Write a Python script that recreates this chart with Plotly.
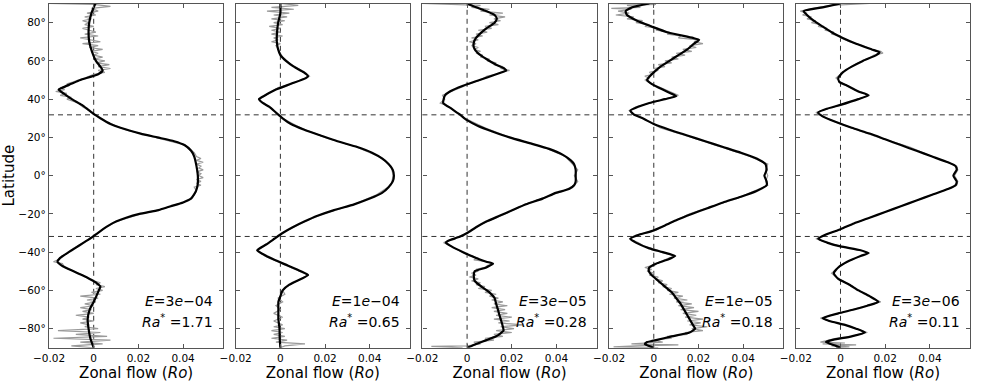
import plotly.graph_objects as go

# ---- data (latitude in degrees, zonal flow in Ro) ----
tick_lat = [-80, -60, -40, -20, 0, 20, 40, 60, 80]
tick_lat_text = ["−80°", "−60°", "−40°", "−20°", "0°", "20°", "40°", "60°", "80°"]
tick_flow = [-0.02, 0, 0.02, 0.04]
tick_flow_text = ["−0.02", "0", "0.02", "0.04"]
tangent_lat = 31.79

ekman = ["3<i>e</i>−04", "1<i>e</i>−04", "3<i>e</i>−05", "1<i>e</i>−05", "3<i>e</i>−06"]
rayleigh = ["1.71", "0.65", "0.28", "0.18", "0.11"]

# panel 1 (E=3e-04)
lat_mean_1 = [90, 88, 85, 80, 75, 70, 65, 60, 57, 55, 53, 50, 48, 46, 45, 43, 40, 37, 35, 32, 30, 27, 25, 22, 20,
              18, 16, 13, 10, 5, 0, -5, -8, -10, -12, -14, -16, -18, -20, -22, -24, -26, -28, -30, -32, -35, -38,
              -40, -43, -45, -47, -50, -52, -54, -56, -58, -60, -63, -66, -70, -75, -80, -85, -90]
flow_mean_1 = [0.0008, 0.0, -0.001, -0.002, -0.0023, -0.002, -0.0008, 0.001, 0.003, 0.004, 0.002, -0.006, -0.010,
               -0.014, -0.0157, -0.0135, -0.0098, -0.0053, -0.003, 0.0003, 0.003, 0.0075, 0.012, 0.021, 0.0285,
               0.036, 0.0406, 0.0436, 0.045, 0.046, 0.0466, 0.0465, 0.0458, 0.0448, 0.0435, 0.040, 0.0345, 0.029,
               0.0205, 0.0145, 0.010, 0.0068, 0.0042, 0.0018, -0.0005, -0.0045, -0.0085, -0.0112, -0.015, -0.0162,
               -0.0143, -0.009, -0.0053, -0.0018, 0.0012, 0.003, 0.0023, 0.0012, 0.0, -0.0018, -0.0027, -0.0023,
               -0.0015, 0.0]
lat_raw_1 = [90, 89.5, 88.5, 87.5, 86, 85, 84, 83, 82, 81, 80, 79, 78, 77, 76, 75, 74, 73, 72, 71, 70, 69, 68, 67,
             66, 65, 64, 63, 62, 61, 60, 59, 58, 57, 56, 55, 54, 53, 52, 51, 50, 49, 48, 47, 46, 45, 44, 43, 42, 41,
             40, 38, 36, 34, 32, 30, 28, 26, 24, 22, 20, 18, 16, 14, 12, 10, 9, 8, 7, 6, 5, 4, 3, 2, 1, 0, -1, -2,
             -3, -4, -5, -6, -8, -10, -12, -14, -16, -18, -20, -22, -24, -26, -28, -30, -32, -34, -36, -38, -40, -42,
             -44, -45, -46, -48, -50, -52, -54, -55, -56, -57, -58, -59, -60, -61, -62, -63, -64, -65, -66, -67,
             -68, -69, -70, -71, -72, -73, -74, -75, -76, -77, -78, -79, -80, -81, -82, -83, -84, -85, -86, -87,
             -88, -89, -90]
flow_raw_1 = [-0.020, 0.000, 0.0075, -0.001, 0.002, -0.003, 0.001, -0.004, -0.001, -0.005, -0.002, -0.004, 0.000,
              -0.005, -0.002, 0.001, -0.004, 0.002, -0.006, -0.001, 0.003, -0.005, 0.002, -0.002, 0.004, -0.001,
              0.002, 0.000, 0.004, 0.000, 0.005, 0.001, 0.007, 0.002, 0.0075, 0.002, 0.005, 0.000, -0.002, -0.004,
              -0.007, -0.009, -0.012, -0.011, -0.015, -0.013, -0.017, -0.012, -0.015, -0.010, -0.012, -0.007,
              -0.005, -0.002, 0.000, 0.003, 0.006, 0.010, 0.014, 0.021, 0.028, 0.035, 0.041, 0.043, 0.045, 0.046,
              0.048, 0.046, 0.049, 0.046, 0.048, 0.047, 0.049, 0.046, 0.048, 0.047, 0.049, 0.046, 0.048, 0.046,
              0.048, 0.045, 0.046, 0.045, 0.044, 0.040, 0.034, 0.029, 0.021, 0.015, 0.010, 0.007, 0.004, 0.002,
              0.000, -0.003, -0.006, -0.009, -0.011, -0.014, -0.016, -0.018, -0.014, -0.013, -0.009, -0.005, -0.002,
              0.000, 0.003, 0.001, 0.005, 0.001, 0.004, -0.001, 0.003, -0.006, 0.002, -0.003, 0.001, -0.004, 0.000,
              -0.006, -0.001, -0.005, 0.000, -0.008, -0.002, -0.005, 0.000, -0.006, -0.002, -0.004, 0.002, -0.016,
              0.003, -0.008, 0.006, -0.018, 0.0075, -0.006, 0.004, -0.010, 0.000]

# panel 2 (E=1e-04)
lat_mean_2 = [90, 85, 80, 75, 70, 66, 63, 60, 57, 54, 52, 51, 48, 45, 42, 40, 38, 36, 33, 30, 27, 24, 21, 18, 15,
              12, 9, 6, 3, 0, -3, -6, -9, -12, -15, -18, -21, -24, -27, -30, -33, -36, -39, -41, -44, -47, -50, -52,
              -54, -57, -60, -63, -66, -70, -75, -80, -85, -90]
flow_mean_2 = [0.0, 0.0, -0.001, -0.0015, -0.0016, -0.001, 0.0, 0.0025, 0.006, 0.0105, 0.0124, 0.0114, 0.0047,
               -0.002, -0.0068, -0.0096, -0.0079, -0.0049, -0.002, 0.001, 0.0047, 0.0107, 0.018, 0.0255, 0.0344,
               0.041, 0.0455, 0.0485, 0.0503, 0.0508, 0.0503, 0.0484, 0.0455, 0.040, 0.033, 0.024, 0.0166, 0.0107,
               0.0055, 0.001, -0.0027, -0.0064, -0.0104, -0.0079, -0.0027, 0.0033, 0.0092, 0.0124, 0.0092, 0.004,
               0.001, 0.0, -0.0009, -0.0009, -0.0009, -0.0004, -0.0003, 0.0]
lat_raw_2 = [90, 89, 88, 87, 86, 85, 84, 83, 82, 81, 80, 79, 78, 77, 76, 75, 74, 73, 72, 71, 70, 69, 68, 66, 64,
             62, 60, 58, 56, 54, 52, 50, 48, 46, 44, 42, 40, 38, 36, 34, 30, 25, 20, 15, 10, 5, 0, -5, -10, -15,
             -20, -25, -30, -35, -39, -42, -45, -48, -50, -52, -54, -56, -58, -60, -62, -64, -66, -68, -70, -72,
             -74, -76, -78, -79, -80, -81, -82, -83, -84, -85, -86, -87, -88, -89, -90]
flow_raw_2 = [0.000, 0.008, -0.004, 0.006, -0.006, 0.004, -0.003, 0.003, -0.004, 0.002, -0.003, 0.001, -0.005,
              0.000, -0.004, 0.000, -0.004, 0.001, -0.003, -0.001, -0.004, 0.000, -0.002, -0.001, 0.000, 0.001,
              0.003, 0.005, 0.008, 0.011, 0.013, 0.009, 0.005, -0.001, -0.004, -0.007, -0.0095, -0.008, -0.005,
              -0.003, 0.001, 0.009, 0.020, 0.034, 0.044, 0.0495, 0.0505, 0.0495, 0.043, 0.033, 0.019, 0.009, 0.001,
              -0.005, -0.010, -0.007, -0.001, 0.005, 0.009, 0.0125, 0.009, 0.006, 0.003, 0.001, 0.002, -0.001,
              0.001, -0.002, 0.000, -0.003, 0.001, -0.003, 0.001, -0.003, 0.002, -0.004, 0.001, -0.003, 0.002,
              -0.004, 0.003, -0.002, 0.011, 0.002, 0.000]

# panel 3 (E=3e-05)
lat_mean_3 = [90, 88, 86, 84, 82, 80, 77, 74, 72, 70, 67, 64, 61, 58, 56, 55, 53, 50, 47, 44, 42, 40, 38, 35, 32,
              29, 26, 23, 20, 17, 14, 11, 8, 6, 3, 0, -3, -5, -7, -9, -12, -15, -18, -21, -24, -27, -30, -32, -34,
              -35, -37, -40, -43, -45, -46, -48, -50, -52, -55, -58, -61, -64, -67, -70, -73, -76, -79, -81, -84,
              -86, -88, -90]
flow_mean_3 = [0.0, 0.004, 0.0086, 0.0123, 0.0133, 0.0123, 0.0086, 0.0056, 0.004, 0.0031, 0.003, 0.0049, 0.0086,
               0.013, 0.0167, 0.0175, 0.013, 0.0056, -0.0018, -0.0077, -0.0099, -0.0105, -0.0107, -0.007, -0.0033,
               0.0, 0.0049, 0.0116, 0.019, 0.0279, 0.0367, 0.0427, 0.0464, 0.0479, 0.0486, 0.0486, 0.0486, 0.0479,
               0.0456, 0.0397, 0.0338, 0.0264, 0.0204, 0.0145, 0.0086, 0.004, 0.0, -0.0033, -0.0084, -0.0095,
               -0.007, -0.0018, 0.004, 0.0086, 0.0116, 0.0086, 0.0034, 0.003, 0.0034, 0.0064, 0.010, 0.0123, 0.013,
               0.0138, 0.0145, 0.0153, 0.016, 0.0163, 0.013, 0.0086, 0.004, 0.0]
lat_raw_3 = [90, 89.5, 89, 88, 87, 86, 85, 84, 83, 82, 81, 80, 79, 78, 77, 76, 75, 74, 73, 72, 71, 70, 69, 68, 67,
             66, 65, 64, 63, 62, 61, 60, 59, 58, 57, 56, 55, 54, 53, 52, 50, 48, 46, 44, 42, 40, 38, 36, 34, 32,
             30, 25, 20, 15, 10, 5, 3, 0, -3, -5, -8, -10, -15, -20, -25, -30, -33, -35, -37, -40, -42, -43, -44,
             -45, -46, -47, -48, -49, -50, -51, -52, -53, -54, -55, -56, -57, -58, -59, -60, -61, -62, -63, -64,
             -65, -66, -67, -68, -69, -70, -71, -72, -73, -74, -75, -76, -77, -78, -79, -80, -81, -82, -83, -84,
             -85, -86, -87, -88, -89, -89.3, -90]
flow_raw_3 = [-0.020, 0.000, 0.006, 0.002, 0.010, 0.006, 0.016, 0.010, 0.017, 0.012, 0.015, 0.010, 0.014, 0.008,
              0.011, 0.005, 0.009, 0.004, 0.007, 0.002, 0.005, 0.001, 0.004, 0.002, 0.005, 0.003, 0.006, 0.004,
              0.007, 0.006, 0.010, 0.009, 0.013, 0.012, 0.016, 0.015, 0.019, 0.015, 0.013, 0.009, 0.006, 0.001,
              -0.003, -0.007, -0.011, -0.010, -0.012, -0.008, -0.006, -0.003, -0.001, 0.008, 0.019, 0.034, 0.044,
              0.048, 0.0495, 0.048, 0.0495, 0.048, 0.043, 0.038, 0.026, 0.017, 0.007, 0.000, -0.006, -0.0105,
              -0.007, -0.002, 0.001, 0.005, 0.003, 0.009, 0.012, 0.009, 0.008, 0.004, 0.005, 0.002, 0.004, 0.001,
              0.005, 0.002, 0.006, 0.004, 0.008, 0.005, 0.011, 0.008, 0.013, 0.010, 0.014, 0.011, 0.016, 0.012,
              0.018, 0.011, 0.017, 0.012, 0.018, 0.013, 0.020, 0.012, 0.019, 0.014, 0.025, 0.015, 0.021, 0.013,
              0.020, 0.012, 0.016, 0.008, 0.012, 0.003, 0.006, 0.000, -0.016, -0.002]

# panel 4 (E=1e-05)
lat_mean_4 = [90, 88, 86, 84, 81, 78, 75, 72, 71, 69, 66, 63, 60, 57, 54, 51, 50, 48, 45, 42, 41.5, 40, 38, 36, 34,
              32, 30, 27, 24, 21, 18, 15, 12, 9, 6, 3, 0, -3, -5, -8, -11, -14, -17, -20, -23, -26, -29, -31, -33,
              -35, -38, -40, -42, -44, -46, -48, -50, -52, -55, -58, -61, -64, -67, -70, -73, -76, -79, -80, -82,
              -84, -86, -87, -88, -90]
flow_mean_4 = [-0.002, -0.0096, -0.0126, -0.012, -0.0075, -0.001, 0.006, 0.0175, 0.0203, 0.018, 0.015, 0.011,
               0.007, 0.003, 0.0, -0.0025, -0.003, -0.001, 0.004, 0.0095, 0.010, 0.005, -0.002, -0.007, -0.0105,
               -0.009, -0.005, 0.0, 0.007, 0.015, 0.023, 0.031, 0.039, 0.046, 0.050, 0.0505, 0.0495, 0.0505,
               0.0505, 0.046, 0.039, 0.031, 0.024, 0.017, 0.0105, 0.005, -0.001, -0.007, -0.0105, -0.008, -0.002,
               0.004, 0.0095, 0.006, 0.001, -0.002, -0.0022, -0.001, 0.002, 0.005, 0.008, 0.010, 0.012, 0.0135,
               0.015, 0.0165, 0.018, 0.0185, 0.016, 0.008, 0.001, -0.003, -0.004, 0.0]
lat_raw_4 = [90, 89.5, 89, 88, 87.5, 87, 86, 85, 84, 83, 82, 81, 80, 79, 78, 77, 76, 75, 74, 73, 72, 71, 70, 69,
             68, 67, 66, 65, 64, 63, 62, 61, 60, 59, 58, 57, 56, 55, 54, 53, 52, 51, 50, 48, 46, 44, 42, 40, 38,
             36, 34, 32, 30, 25, 20, 15, 10, 6, 3, 0, -3, -5, -8, -12, -16, -20, -25, -29, -31, -33, -35, -37, -38,
             -39, -40, -41, -42, -43, -44, -45, -46, -47, -48, -49, -50, -51, -52, -53, -54, -55, -56, -57, -58,
             -59, -60, -61, -62, -63, -64, -65, -66, -67, -68, -69, -70, -71, -72, -73, -74, -75, -76, -77, -78,
             -79, -80, -81, -82, -83, -84, -85, -86, -87, -88, -88.5, -89, -89.5, -90]
flow_raw_4 = [-0.020, 0.001, -0.012, -0.006, -0.019, -0.010, -0.016, -0.011, -0.017, -0.009, -0.012, -0.005,
              -0.008, -0.002, -0.004, 0.002, 0.001, 0.007, 0.006, 0.012, 0.011, 0.020, 0.018, 0.022, 0.016, 0.019,
              0.013, 0.017, 0.010, 0.014, 0.008, 0.011, 0.005, 0.008, 0.002, 0.005, 0.000, 0.002, -0.002, 0.000,
              -0.004, -0.002, -0.004, -0.001, 0.003, 0.007, 0.011, 0.005, -0.002, -0.008, -0.011, -0.009, -0.005,
              0.003, 0.017, 0.030, 0.043, 0.051, 0.050, 0.051, 0.050, 0.051, 0.045, 0.037, 0.026, 0.016, 0.007,
              0.000, -0.008, -0.011, -0.007, -0.004, -0.001, 0.002, 0.003, 0.006, 0.010, 0.007, 0.005, 0.003,
              0.001, -0.001, -0.004, -0.001, -0.003, 0.000, -0.002, 0.002, 0.001, 0.004, 0.002, 0.006, 0.004,
              0.008, 0.006, 0.011, 0.007, 0.013, 0.009, 0.015, 0.010, 0.017, 0.011, 0.018, 0.012, 0.020, 0.013,
              0.019, 0.014, 0.022, 0.015, 0.021, 0.016, 0.024, 0.017, 0.022, 0.014, 0.015, 0.006, 0.008, -0.001,
              0.004, -0.010, 0.011, -0.008, -0.018, 0.002]

# panel 5 (E=3e-06)
lat_mean_5 = [90, 88, 86, 84, 81, 78, 75, 72, 69, 66, 64.5, 63, 60, 57, 54, 51, 49, 47, 44, 42, 40, 37, 35, 33, 31,
              28, 25, 22, 19, 16, 13, 10, 7, 5, 3, 0, -3, -5, -7, -10, -13, -16, -19, -22, -25, -28, -31, -33, -35,
              -37, -39, -40.5, -42, -45, -48, -51, -54, -57, -60, -63, -66, -68, -70, -72, -74.5, -76, -78, -80,
              -82, -84, -86, -87, -89, -90]
flow_mean_5 = [0.0, -0.008, -0.0165, -0.015, -0.012, -0.008, -0.004, 0.001, 0.007, 0.014, 0.0175, 0.016, 0.010,
               0.005, 0.001, -0.001, -0.0005, 0.003, 0.008, 0.0125, 0.008, 0.0, -0.006, -0.010, -0.008, -0.002,
               0.005, 0.013, 0.020, 0.027, 0.034, 0.041, 0.048, 0.0515, 0.052, 0.0505, 0.052, 0.0515, 0.048, 0.041,
               0.034, 0.027, 0.020, 0.013, 0.006, 0.0, -0.007, -0.010, -0.006, 0.0, 0.009, 0.0125, 0.009, 0.003,
               -0.001, -0.003, -0.001, 0.004, 0.008, 0.013, 0.017, 0.012, 0.006, -0.001, -0.008, -0.005, 0.002,
               0.007, 0.011, 0.005, -0.004, -0.0065, -0.002, 0.0]
lat_raw_5 = [90, 89.5, 89, 88, 87, 86, 85, 84, 83, 82, 81, 80, 79, 78, 77, 76, 75, 74, 73, 72, 70, 68, 66, 65, 64,
             63, 61, 59, 57, 55, 53, 51, 49, 47, 45, 43, 42, 40, 37, 35, 33, 31, 28, 25, 20, 15, 10, 7, 5, 3, 0,
             -3, -5, -7, -10, -15, -20, -25, -28, -31, -33, -35, -37, -39, -40.5, -42, -45, -48, -50, -51, -53,
             -55, -57, -60, -63, -65, -66, -67, -69, -71, -73, -74.5, -76, -78, -80, -82, -83, -84, -85, -86, -87,
             -87.5, -88, -88.5, -89, -89.5, -90]
flow_raw_5 = [0.013, 0.000, -0.004, -0.010, -0.014, -0.018, -0.015, -0.017, -0.013, -0.015, -0.011, -0.013,
              -0.009, -0.010, -0.006, -0.007, -0.003, -0.004, 0.000, 0.000, 0.004, 0.010, 0.014, 0.018, 0.019,
              0.015, 0.012, 0.008, 0.005, 0.002, 0.000, -0.002, 0.000, 0.003, 0.006, 0.011, 0.013, 0.008, 0.000,
              -0.006, -0.011, -0.008, -0.002, 0.005, 0.017, 0.031, 0.041, 0.048, 0.052, 0.0525, 0.051, 0.0525,
              0.052, 0.048, 0.041, 0.030, 0.018, 0.006, 0.000, -0.007, -0.011, -0.006, 0.000, 0.009, 0.013, 0.009,
              0.003, -0.001, -0.003, -0.004, -0.002, 0.001, 0.004, 0.008, 0.013, 0.016, 0.018, 0.015, 0.009, 0.003,
              -0.004, -0.009, -0.005, 0.002, 0.007, 0.012, 0.008, 0.005, -0.002, -0.005, -0.009, 0.002, -0.008,
              0.007, -0.004, 0.004, -0.002]

panels = [
    (lat_raw_1, flow_raw_1, lat_mean_1, flow_mean_1),
    (lat_raw_2, flow_raw_2, lat_mean_2, flow_mean_2),
    (lat_raw_3, flow_raw_3, lat_mean_3, flow_mean_3),
    (lat_raw_4, flow_raw_4, lat_mean_4, flow_mean_4),
    (lat_raw_5, flow_raw_5, lat_mean_5, flow_mean_5),
]

W, H = 981, 382
lefts = [49, 235.7, 422.4, 609.1, 795.8]
pw = 174.3
y_top, y_bot = 3.5, 347.8
font = "DejaVu Sans"
frame = "#555555"

fig = go.Figure()
layout = {}
for i, (lr, fr, lm, fm) in enumerate(panels):
    n = "" if i == 0 else str(i + 1)
    xa, ya = "x" + n, "y" + n
    fig.add_trace(go.Scatter(x=fr, y=lr, xaxis=xa, yaxis=ya, mode="lines",
                             line=dict(color="#9a9a9a", width=1.2), hoverinfo="skip"))
    fig.add_trace(go.Scatter(x=fm, y=lm, xaxis=xa, yaxis=ya, mode="lines",
                             line=dict(color="black", width=2.2, shape="spline", smoothing=0.5)))
    dom = [lefts[i] / W, (lefts[i] + pw) / W]
    layout["xaxis" + n] = dict(
        domain=dom, anchor=ya, range=[-0.02, 0.058], automargin=False,
        tickvals=tick_flow, ticktext=tick_flow_text,
        ticks="inside", ticklen=4, tickcolor=frame, tickwidth=1,
        showline=True, linecolor=frame, linewidth=1.3, mirror="ticks",
        showgrid=False, zeroline=False,
        tickfont=dict(size=10.5, color="black"),
        title=dict(text="Zonal flow (<i>Ro</i>)", font=dict(size=15, color="black"), standoff=2),
    )
    layout["yaxis" + n] = dict(
        domain=[1 - y_bot / H, 1 - y_top / H], anchor=xa, range=[-90, 90], automargin=False,
        tickvals=tick_lat, ticktext=tick_lat_text, showticklabels=(i == 0),
        ticks="inside", ticklen=4, tickcolor=frame, tickwidth=1,
        showline=True, linecolor=frame, linewidth=1.3, mirror="ticks",
        showgrid=False, zeroline=False,
        tickfont=dict(size=10.5, color="black"),
    )
    if i == 0:
        layout["yaxis"]["title"] = dict(text="Latitude", font=dict(size=15, color="black"), standoff=2)

    # tangent cylinder latitude and zero line
    for yy in (tangent_lat, -tangent_lat):
        fig.add_shape(type="line", xref=xa + " domain", yref=ya, x0=0, x1=1, y0=yy, y1=yy,
                      line=dict(color="#333333", width=1, dash="5px,4px"), layer="below")
    fig.add_shape(type="line", xref=xa, yref=ya + " domain", x0=0, x1=0, y0=0, y1=1,
                  line=dict(color="#333333", width=1, dash="5px,4px"), layer="below")

    fig.add_annotation(xref=xa + " domain", yref="paper", x=1 - 8 / pw, y=1 - 301 / H,
                       xanchor="right", yanchor="middle", showarrow=False,
                       text="<i>E</i>=" + ekman[i], font=dict(size=14, color="black", family=font))
    fig.add_annotation(xref=xa + " domain", yref="paper", x=1 - 8 / pw, y=1 - 321 / H,
                       xanchor="right", yanchor="middle", showarrow=False,
                       text="<i>Ra</i><sup>*</sup> =" + rayleigh[i], font=dict(size=14, color="black", family=font))

fig.update_layout(
    **layout,
    width=W, height=H,
    margin=dict(l=0, r=0, t=0, b=0),
    paper_bgcolor="white", plot_bgcolor="white",
    showlegend=False,
    font=dict(family=font, color="black"),
)

# the page body has a default 8px margin; drop it so the figure fills the window
fig.write_html("out.html", config={"displayModeBar": False},
               post_script="document.body.style.margin='0';")
